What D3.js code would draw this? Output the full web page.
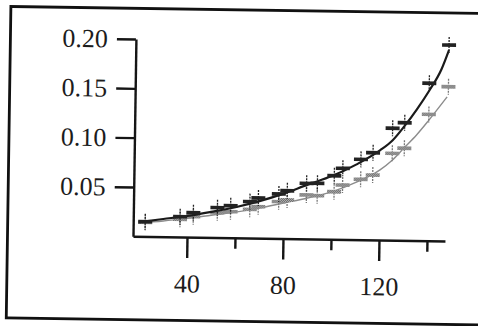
<!DOCTYPE html>
<html>
<head>
    <meta charset="utf-8">
    <script src="https://d3js.org/d3.v7.min.js"></script>
    <style>
        body { margin: 0; background: #fff; }
        svg { display: block; }
        .axis text { font-family: "Liberation Serif", "DejaVu Serif", serif; font-size: 26px; fill: #1c1c1c; }
        .axis path, .axis line { stroke: #151515; stroke-width: 2.4; }
    </style>
</head>
<body>
<script>
    // shared x positions of the measured points
    var xVals = [22.5, 37, 42.5, 52.5, 58, 66, 69.5, 78, 81.5, 89.5, 94, 101, 104.5, 112, 117, 125, 130, 140, 148];
    // black series (upper)
    var blackVals = [0.015, 0.0206, 0.0248, 0.0303, 0.0325, 0.0369, 0.0407, 0.0451, 0.0485, 0.0563, 0.0565,
                     0.0644, 0.0721, 0.0814, 0.0883, 0.1134, 0.1192, 0.1596, 0.1986];
    // gray series (lower)
    var grayVals = [0.0143, 0.0179, 0.0208, 0.0252, 0.0264, 0.0291, 0.0319, 0.0373, 0.0391, 0.0445, 0.0439,
                    0.0482, 0.0551, 0.0612, 0.0657, 0.088, 0.0933, 0.128, 0.1563];

    // fitted curves
    var blackFitX = [20, 30, 40, 50, 60, 70, 80, 90, 100, 110, 120, 125, 130, 135, 140, 145, 148];
    var blackFitY = [0.0145, 0.018, 0.0215, 0.026, 0.031, 0.0375, 0.0455, 0.055, 0.064, 0.076, 0.091,
                     0.101, 0.116, 0.133, 0.152, 0.174, 0.1935];
    var grayFitX = [20, 30, 40, 50, 60, 70, 80, 90, 100, 110, 120, 125, 130, 135, 140, 147.5];
    var grayFitY = [0.0138, 0.016, 0.019, 0.0225, 0.026, 0.0305, 0.036, 0.0415, 0.048, 0.058, 0.071,
                    0.081, 0.094, 0.107, 0.122, 0.146];

    var yTicks = [0.05, 0.10, 0.15, 0.20];
    var xMajor = [40, 80, 120];
    var xMinor = [60, 100, 140];

    var W = 478, H = 326;

    var svg = d3.select("body").append("svg")
        .attr("width", W)
        .attr("height", H);

    // scanned page is slightly tilted
    var g = svg.append("g").attr("transform", "rotate(0.85,133,236)");

    var defs = svg.append("defs");
    var pat = defs.append("pattern")
        .attr("id", "chk")
        .attr("width", 2).attr("height", 2)
        .attr("patternUnits", "userSpaceOnUse");
    pat.append("rect").attr("width", 2).attr("height", 2).attr("fill", "#bdbdbd");
    pat.append("rect").attr("width", 1).attr("height", 1).attr("fill", "#5e5e5e");
    pat.append("rect").attr("x", 1).attr("y", 1).attr("width", 1).attr("height", 1).attr("fill", "#5e5e5e");

    // frame
    g.append("rect")
        .attr("x", 7.5).attr("y", 8.3)
        .attr("width", 490).attr("height", 311.5)
        .attr("fill", "none")
        .attr("stroke", "#111")
        .attr("stroke-width", 2.8);

    var x = d3.scaleLinear().domain([17.5, 147.5]).range([133, 445]);
    var y = d3.scaleLinear().domain([0, 0.2]).range([236.3, 39]);

    // y axis
    g.append("g")
        .attr("class", "axis")
        .attr("transform", "translate(133,0)")
        .call(d3.axisLeft(y).tickValues(yTicks).tickFormat(d3.format(".2f"))
            .tickSize(19).tickPadding(9).tickSizeOuter(0));

    // x axis, major ticks with labels
    g.append("g")
        .attr("class", "axis")
        .attr("transform", "translate(0," + y(0) + ")")
        .call(d3.axisBottom(x).tickValues(xMajor).tickFormat(d3.format("d"))
            .tickSize(21).tickPadding(16).tickSizeOuter(0));

    // x axis, minor ticks
    var minor = g.append("g")
        .attr("class", "axis")
        .attr("transform", "translate(0," + y(0) + ")")
        .call(d3.axisBottom(x).tickValues(xMinor).tickFormat("").tickSize(11).tickSizeOuter(0));
    minor.select(".domain").remove();

    var line = d3.line()
        .x(function(d) { return x(d[0]); })
        .y(function(d) { return y(d[1]); })
        .curve(d3.curveMonotoneX);

    function drawMarks(vals, fill, vcol) {
        var m = g.append("g").selectAll("g")
            .data(xVals.map(function(v, i) { return [v, vals[i]]; }))
            .enter().append("g")
            .attr("transform", function(d) { return "translate(" + x(d[0]) + "," + y(d[1]) + ")"; });
        m.append("line")
            .attr("x1", 0).attr("x2", 0)
            .attr("y1", -8).attr("y2", 8)
            .attr("stroke", vcol)
            .attr("stroke-width", 1.3)
            .attr("stroke-dasharray", "2,1");
        m.append("rect")
            .attr("x", -7).attr("y", -1.8)
            .attr("width", 14).attr("height", 3.6)
            .attr("fill", fill);
    }

    // gray series
    g.append("path")
        .datum(grayFitX.map(function(v, i) { return [v, grayFitY[i]]; }))
        .attr("d", line)
        .attr("fill", "none")
        .attr("stroke", "#8c8c8c")
        .attr("stroke-width", 1.4);
    drawMarks(grayVals, "url(#chk)", "#777");

    // black series
    g.append("path")
        .datum(blackFitX.map(function(v, i) { return [v, blackFitY[i]]; }))
        .attr("d", line)
        .attr("fill", "none")
        .attr("stroke", "#1a1a1a")
        .attr("stroke-width", 2.2);
    drawMarks(blackVals, "#222", "#222");
</script>
</body>
</html>
